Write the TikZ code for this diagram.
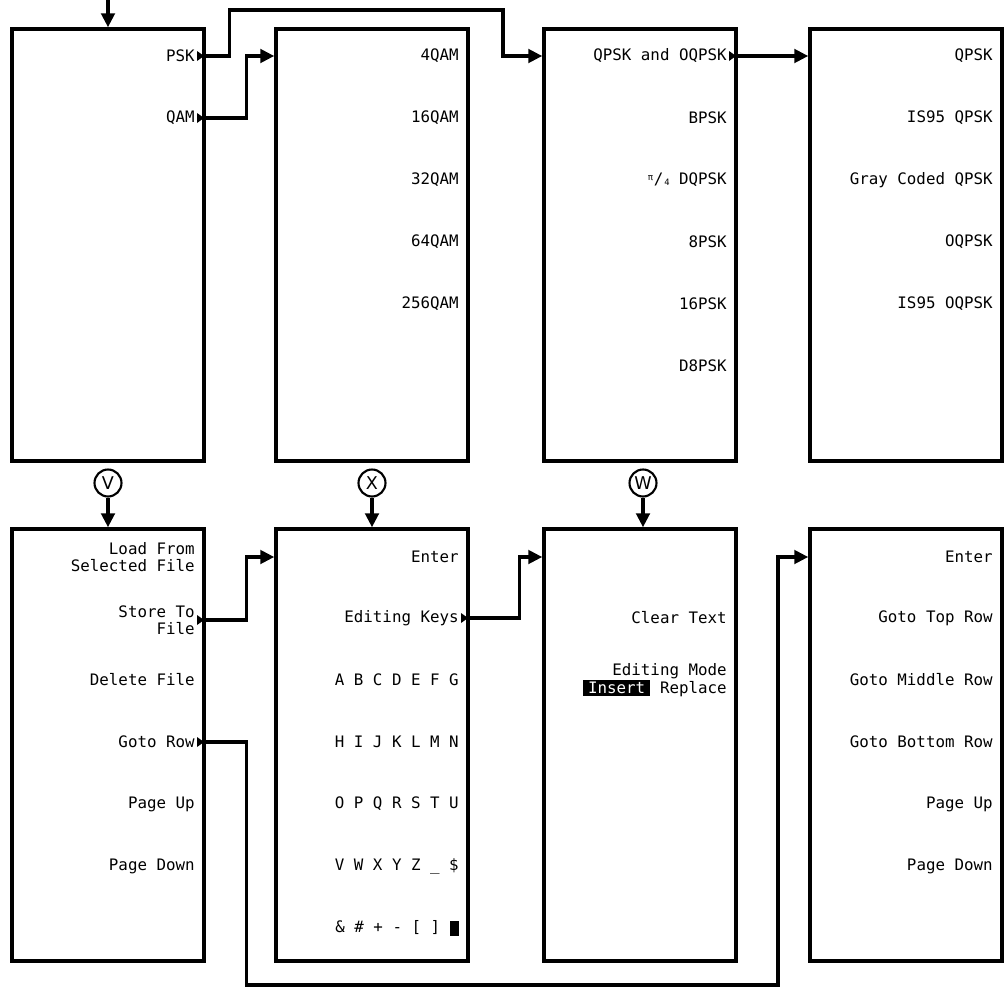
\documentclass[tikz,border=0pt]{standalone}
\usepackage{fontspec}
\setmonofont{DejaVu Sans Mono}
\setsansfont{DejaVu Sans}
\usetikzlibrary{arrows.meta, positioning}
\setlength{\fboxsep}{1pt}
\newcommand{\quarterpi}{\raisebox{0.5ex}{\tiny π}\kern0.05em{\small/}\kern0.05em\raisebox{-0.1ex}{\tiny 4}}
\newcommand{\hilite}[1]{\colorbox{black}{\kern2pt\textcolor{white}{#1}\kern2pt}}

\begin{document}
\begin{tikzpicture}[x=0.02cm, y=-0.02cm,
  every node/.style={font=\ttfamily\fontsize{9}{9.4}\selectfont},
  menubox/.style={draw, line width=2pt, minimum width=3.84cm, minimum height=8.64cm, inner sep=0pt},
  key/.style={anchor=east, inner sep=0pt, align=right},
  link/.style={line width=1.9pt, -{Triangle[length=0.28cm, width=0.27cm]}},
  tag/.style={draw, circle, line width=1.2pt, minimum size=0.54cm, inner sep=0pt, font=\sffamily\fontsize{10}{10}\selectfont}]
  \useasboundingbox (0,0) rectangle (1007,987);
  % Menus, top row
  \node[menubox] (modType) at (108,245) {};
  \node[menubox] (qamMenu) at (372,245) {};
  \node[menubox] (pskMenu) at (640,245) {};
  \node[menubox] (qpskMenu) at (906,245) {};
  % Menus, bottom row
  \node[menubox] (fileMenu) at (108,745) {};
  \node[menubox] (tableMenu) at (372,745) {};
  \node[menubox] (editMenu) at (640,745) {};
  \node[menubox] (gotoMenu) at (906,745) {};

  % Softkeys, top row
  \node[key] (kPsk) at (195,56) {PSK};
  \node[key] (kQam) at (195,118) {QAM};
  \foreach \y/\t in {56/4QAM, 118/16QAM, 180/32QAM, 242/64QAM, 304/256QAM}
    \node[key] (qam-\y) at (459,\y) {\t};
  \node[key] (kQpsk) at (727,56) {QPSK and OQPSK};
  \foreach \y/\t in {118/BPSK, 180/{\quarterpi{} DQPSK}, 242/8PSK, 304/16PSK, 366/D8PSK}
    \node[key] (psk-\y) at (727,\y) {\t};
  \foreach \y/\t in {56/QPSK, 118/IS95 QPSK, 180/Gray Coded QPSK, 242/OQPSK, 304/IS95 OQPSK}
    \node[key] (qpsk-\y) at (993,\y) {\t};

  % Softkeys, bottom row
  \node[key] (kLoad) at (195,557) {Load From\\Selected File};
  \node[key] (kStore) at (195,620) {Store To\\File};
  \node[key] (kDelete) at (195,680) {Delete File};
  \node[key] (kGotoRow) at (195,742) {Goto Row};
  \node[key] (kPgUpF) at (195,804) {Page Up};
  \node[key] (kPgDnF) at (195,866) {Page Down};
  \node[key] (kEnterT) at (459,557) {Enter};
  \node[key] (kEditKeys) at (459,618) {Editing Keys};
  \foreach \y/\t in {680/A B C D E F G, 742/H I J K L M N, 804/O P Q R S T U,
                     866/V W X Y Z \_ \$}
    \node[key] (chars-\y) at (459,\y) {\t};
  \node[key] (chars-928) at (459,928) {\& \# + - [ ] \rule[-0.06cm]{0.18cm}{0.3cm}};
  \node[key] (kClear) at (727,618) {Clear Text};
  \node[key] (kMode) at (727,680) {Editing Mode\\\hilite{Insert} Replace\hspace{0.2cm}};
  \node[key] (kEnterG) at (993,557) {Enter};
  \foreach \y/\t in {618/Goto Top Row, 680/Goto Middle Row, 742/Goto Bottom Row,
                     804/Page Up, 866/Page Down}
    \node[key] (goto-\y) at (993,\y) {\t};

  % Submenu markers
  \foreach \k in {kPsk, kQam, kQpsk, kStore, kEditKeys, kGotoRow}
    \fill (\k.east) ++(2,-5) -- ++(7,5) -- ++(-7,5) -- cycle;

  % Circled connectors
  \node[tag] (tagV) at (108,483) {V};
  \node[tag] (tagX) at (372,483) {X};
  \node[tag] (tagW) at (643,483) {W};

  % Arrows
  \coordinate (start) at (108,0);
  \coordinate (detour) at (778,985);
  \draw[link] (start) -- (modType.north);
  \draw[link] (kPsk.east -| modType.east) -- ++(24,0) |- (503,10) |- (pskMenu.west |- kQpsk.east);
  \draw[link] (kQam.east -| modType.east) -- ++(41,0) |- (qamMenu.west |- kPsk.east);
  \draw[link] (kQpsk.east -| pskMenu.east) -- (qpskMenu.west |- kQpsk.east);
  \draw[link] (tagV) -- (fileMenu.north);
  \draw[link] (tagX) -- (tableMenu.north);
  \draw[link] (tagW) -- (tagW |- editMenu.north);
  \draw[link] (kStore.east -| fileMenu.east) -- ++(41,0) |- (tableMenu.west |- kEnterT.east);
  \draw[link] (kEditKeys.east -| tableMenu.east) -- ++(50,0) |- (editMenu.west |- kEnterT.east);
  \draw[link] (kGotoRow.east -| fileMenu.east) -- ++(41,0) |- (detour) |- (gotoMenu.west |- kEnterG.east);
\end{tikzpicture}
\end{document}
